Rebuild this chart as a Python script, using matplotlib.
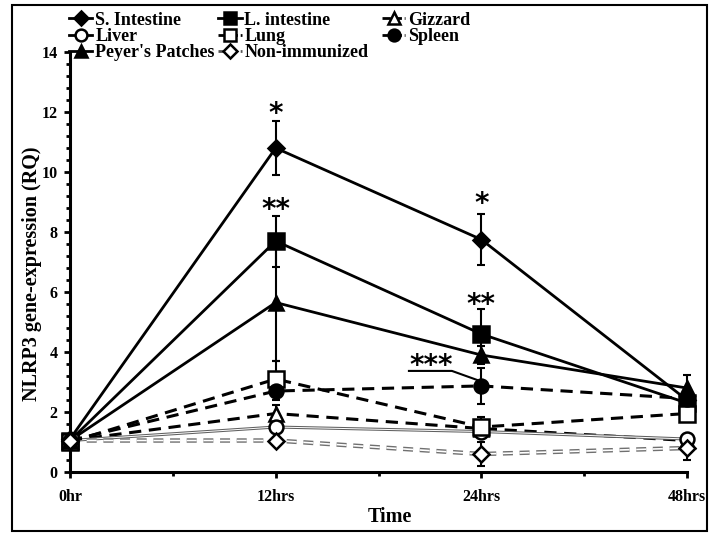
"""
NLRP3 expression over time
"""

import numpy as np
import matplotlib
matplotlib.use("Agg")
import matplotlib.pyplot as plt
import matplotlib.patheffects as pe
from matplotlib.lines import Line2D
from matplotlib.patches import Rectangle

plt.rcParams['font.family'] = ['Liberation Serif', 'DejaVu Serif']
plt.rcParams['font.weight'] = 'bold'

times = ['0hr', '12hrs', '24hrs', '48hrs']

s_int = [1.1, 10.8, 7.75, 2.4]
s_int_err = [0.15, 0.9, 0.85, 0.2]
l_int = [1.05, 7.7, 4.6, 2.3]
l_int_err = [0.15, 0.85, 0.83, 0.2]
gizzard = [1.05, 1.95, 1.45, 1.05]
gizzard_err = [0.1, 0.3, 0.25, 0.15]
liver = [1.05, 1.5, 1.35, 1.1]
liver_err = [0.1, 0.2, 0.2, 0.15]
lung = [1.0, 3.1, 1.5, 1.95]
lung_err = [0.1, 0.6, 0.35, 0.2]
spleen = [1.05, 2.7, 2.87, 2.45]
spleen_err = [0.1, 0.3, 0.6, 0.2]
peyers = [1.05, 5.65, 3.9, 2.8]
peyers_err = [0.1, 1.95, 0.3, 0.45]
non_imm = [1.05, 1.05, 0.6, 0.8]
non_imm_err = [0.1, 0.1, 0.4, 0.4]

x = np.arange(len(times))

fig = plt.figure(figsize=(7.11, 5.33), dpi=100)
ax = fig.add_axes([0.0985, 0.1144, 0.8677, 0.788])

dash = (0, (4, 2.5))
# name, values, errors, marker, filled, line style, line width, marker size
series = [
    ("S. Intestine", s_int, s_int_err, 'D', True, '-', 2.0, 8),
    ("L. intestine", l_int, l_int_err, 's', True, '-', 2.0, 11),
    ("Gizzard", gizzard, gizzard_err, '^', False, dash, 2.2, 10),
    ("Liver", liver, liver_err, 'o', False, '-', 1.0, 10),
    ("Lung", lung, lung_err, 's', False, dash, 2.2, 11),
    ("Spleen", spleen, spleen_err, 'o', True, dash, 2.2, 10),
    ("Peyer's Patches", peyers, peyers_err, '^', True, '-', 2.0, 10),
    ("Non-immunized", non_imm, non_imm_err, 'D', False, (0, (6, 4)), 1.2, 8),
]

handles = {}
for name, vals, err, mk, filled, ls, lw, ms in series:
    if name == "Non-immunized":
        ax.plot(x, vals, linestyle=ls, color='white', lw=lw, zorder=2, clip_on=False,
                path_effects=[pe.Stroke(linewidth=3.2, foreground='#707070'), pe.Normal()])
    elif name == "Liver":
        ax.plot(x, vals, color='#606060', lw=2.2, zorder=2, clip_on=False)
        ax.plot(x, vals, color='white', lw=0.7, zorder=2, clip_on=False)
    else:
        ax.plot(x, vals, linestyle=ls, color='black', lw=lw, zorder=2, clip_on=False)
    eb = ax.errorbar(x, vals, yerr=err, fmt='none', ecolor='black', elinewidth=1.5,
                     capsize=3, capthick=1.5, zorder=3)
    for part in eb.lines[1] + eb.lines[2]:
        part.set_clip_on(False)
    ax.plot(x, vals, linestyle='none', marker=mk, markersize=ms, clip_on=False,
            markerfacecolor='black' if filled else 'white',
            markeredgecolor='black', markeredgewidth=1.8, zorder=4)
    hc = '#555555' if name == "Non-immunized" else 'black'
    handles[name] = Line2D([], [], color=hc, lw=2, linestyle='-' if ls == '-' else (0, (3, 1)),
                           marker=mk, markersize=ms * 0.85,
                           markerfacecolor='black' if filled else 'white',
                           markeredgecolor='black', markeredgewidth=1.8)

# significance marks
star_kw = dict(ha='center', va='center', fontsize=20, family='DejaVu Sans', fontweight='bold')
ax.text(1, 11.95, '*', **star_kw)
ax.text(1, 8.75, '**', **star_kw)
ax.text(2, 8.95, '*', **star_kw)
ax.text(2, 5.58, '**', **star_kw)
ax.text(1.755, 3.52, '***', **star_kw)
ax.plot([1.648, 1.857, 1.979], [3.37, 3.37, 3.07], color='black', lw=1.5, zorder=3)

ax.set_xlim(0, 3)
ax.set_ylim(0, 14)
ax.set_xticks(x)
ax.set_xticklabels(times, fontsize=11.5, fontweight='bold')
ax.set_xticks([0.5, 1.5, 2.5], minor=True)
ax.set_yticks(np.arange(0, 15, 2))
ax.set_yticklabels([str(v) for v in range(0, 15, 2)], fontsize=11.5, fontweight='bold')
ax.set_yticks(np.arange(0, 14.01, 0.4), minor=True)
ax.tick_params(axis='both', which='major', direction='out', length=4, width=2, pad=5)
ax.tick_params(axis='x', which='major', pad=8)
ax.tick_params(axis='both', which='minor', direction='out', length=3, width=2)
for side in ['top', 'right']:
    ax.spines[side].set_visible(False)
for side in ['left', 'bottom']:
    ax.spines[side].set_linewidth(2.2)

ax.set_xlabel('Time', fontsize=14.5, fontweight='bold')
ax.xaxis.set_label_coords(0.518, -0.083)
ax.set_ylabel('NLRP3 gene-expression (RQ)', fontsize=14.5, fontweight='bold')
ax.yaxis.set_label_coords(-0.045, 0.471)

# legend: three single-column blocks
columns = [["S. Intestine", "Liver", "Peyer's Patches"],
           ["L. intestine", "Lung", "Non-immunized"],
           ["Gizzard", "Spleen"]]
col_x = [0.097, 0.307, 0.537]
for names, cx in zip(columns, col_x):
    leg = fig.legend([handles[n] for n in names], names, loc='upper left',
                     bbox_to_anchor=(cx, 0.978), frameon=False, handlelength=1.3,
                     handletextpad=0.15, labelspacing=-0.05,
                     borderpad=0, borderaxespad=0,
                     prop={'family': 'Liberation Serif', 'weight': 'bold', 'size': 13})

fig.patches.append(Rectangle((0.017, 0.004), 0.977, 0.987, transform=fig.transFigure,
                             fill=False, edgecolor='black', lw=1.5))

fig.savefig('out.png', dpi=100)
